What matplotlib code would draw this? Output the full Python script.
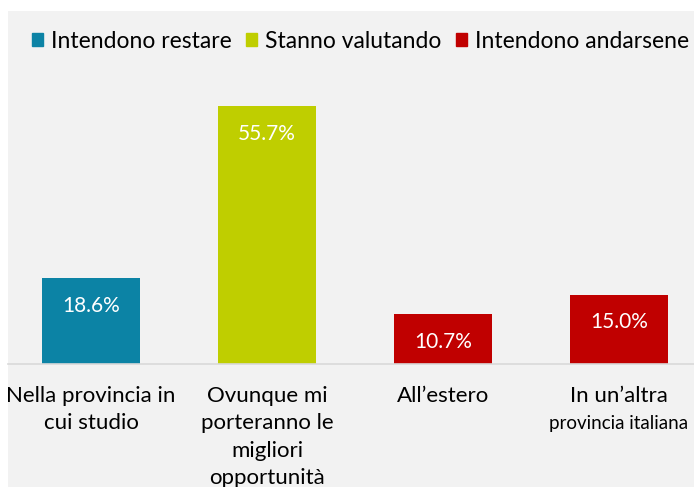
import matplotlib.pyplot as plt
from matplotlib.patches import Rectangle

plt.rcParams['font.family'] = ['Lato', 'DejaVu Sans']

categories = ['Nella provincia in\ncui studio',
              'Ovunque mi\nporteranno le\nmigliori\nopportunità',
              'All’estero',
              'In un’altra']
extra_line = 'provincia italiana'
values = [18.6, 55.7, 10.7, 15.0]
groups = ['Intendono restare', 'Stanno valutando', 'Intendono andarsene', 'Intendono andarsene']
group_colors = {'Intendono restare': '#0c83a5',
                'Stanno valutando': '#bfce00',
                'Intendono andarsene': '#c00000'}

W, H = 694, 487
fig = plt.figure(figsize=(W / 100, H / 100), dpi=100)
fig.patch.set_facecolor('white')

# grey chart panel (cropped screenshot)
fig.patches.append(Rectangle((8 / W, 0), 1, 1 - 11 / H, transform=fig.transFigure,
                             facecolor='#f2f2f2', edgecolor='none', zorder=-5))

ax = fig.add_axes([8 / W, (H - 364) / H, (W - 8) / W, 304 / H])
ax.set_facecolor('none')
ax.set_zorder(2)

x = list(range(len(values)))
colors = [group_colors[g] for g in groups]
bars = ax.bar(x, values, width=0.557, color=colors, zorder=2)

for b, v in zip(bars, values):
    ax.annotate(f'{v:.1f}%', (b.get_x() + b.get_width() / 2, v),
                xytext=(0, -20), textcoords='offset points',
                ha='center', va='center', color='white', fontsize=15)

ax.set_xlim(-0.4716, 3.426)
ax.set_ylim(0, 65.7)
ax.set_yticks([])
ax.set_xticks(x)
ax.set_xticklabels(categories, fontsize=16, linespacing=1.45)
ax.tick_params(axis='x', length=0, pad=16)
for s in ['top', 'left', 'right']:
    ax.spines[s].set_visible(False)
ax.spines['bottom'].set_color('#d9d9d9')
ax.spines['bottom'].set_linewidth(1.2)

ax.annotate(extra_line, (3, 0), xytext=(0, -43), textcoords='offset points',
            xycoords=('data', 'axes fraction'), ha='center', va='center',
            fontsize=13.5, annotation_clip=False)

handles = [Rectangle((0, 0), 1, 1, color=group_colors[g]) for g in group_colors]
fig.legend(handles, list(group_colors), loc='upper left', bbox_to_anchor=(32 / W, 1 - 31 / H),
           ncol=3, frameon=False, fontsize=16.5, handlelength=0.5, handleheight=0.5,
           handletextpad=0.35, columnspacing=0.6, borderaxespad=0, borderpad=0)

fig.savefig('out.png', dpi=100)
